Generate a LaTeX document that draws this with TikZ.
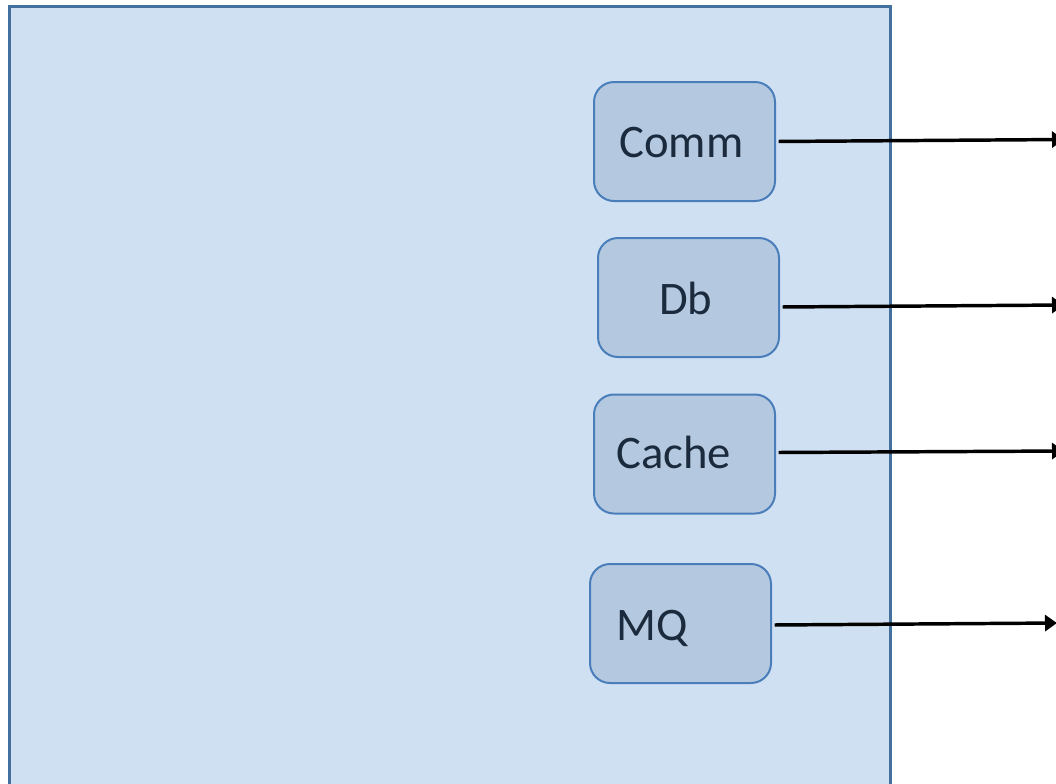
\documentclass[tikz,border=0pt]{standalone}
\usepackage{fontspec}
\setmainfont{Carlito}
\usetikzlibrary{arrows.meta,calc}

\definecolor{panelfill}{RGB}{207,224,242}
\definecolor{paneledge}{RGB}{65,113,156}
\definecolor{boxfill}{RGB}{180,201,224}
\definecolor{boxedge}{RGB}{74,126,187}
\definecolor{labeltext}{RGB}{27,43,61}

\tikzset{
  panel/.style={fill=panelfill, draw=paneledge, line width=2.25pt},
  svcbox/.style={rectangle, rounded corners=15pt, fill=boxfill, draw=boxedge,
    line width=1.5pt, minimum width=135.75pt, minimum height=89.25pt, inner sep=0pt},
  svclabel/.style={anchor=base west, inner sep=0pt, text=labeltext,
    font=\fontsize{35}{42}\selectfont},
  outlink/.style={line width=2.6pt, shorten <=2pt,
    -{Triangle[length=9pt,width=12pt]}}
}

\begin{document}
\begin{tikzpicture}[x=0.75pt, y=-0.75pt]
  \useasboundingbox (0,0) rectangle (1056,783);
  \clip (0,0) rectangle (1056,783);

  % container panel
  \draw[panel] (9,6) rectangle (890,800);

  % service boxes
  \node[svcbox] (comm)  at (684.5,141.5) {};
  \node[svcbox] (db)    at (688.5,297.5) {};
  \node[svcbox] (cache) at (684.5,454)   {};
  \node[svcbox] (mq)    at (680.5,623.5) {};

  % box labels
  \node[svclabel] (commtxt)  at (619,157) {Comm};
  \node[svclabel] (dbtxt)    at (659,314) {Db};
  \node[svclabel] (cachetxt) at (616,468) {Cache};
  \node[svclabel] (mqtxt)    at (616,640) {MQ};

  % outgoing link ends
  \coordinate (commout)  at (1064,139.5);
  \coordinate (dbout)    at (1064,305);
  \coordinate (cacheout) at (1064,451);
  \coordinate (mqout)    at (1057,623);

  % outgoing links
  \draw[outlink] (comm.east) -- (commout);
  \draw[outlink] ($(db.east)+(0,9.5)$) -- (dbout);
  \draw[outlink] ($(cache.east)+(0,-1.5)$) -- (cacheout);
  \draw[outlink] ($(mq.east)+(0,1.5)$) -- (mqout);
\end{tikzpicture}
\end{document}
